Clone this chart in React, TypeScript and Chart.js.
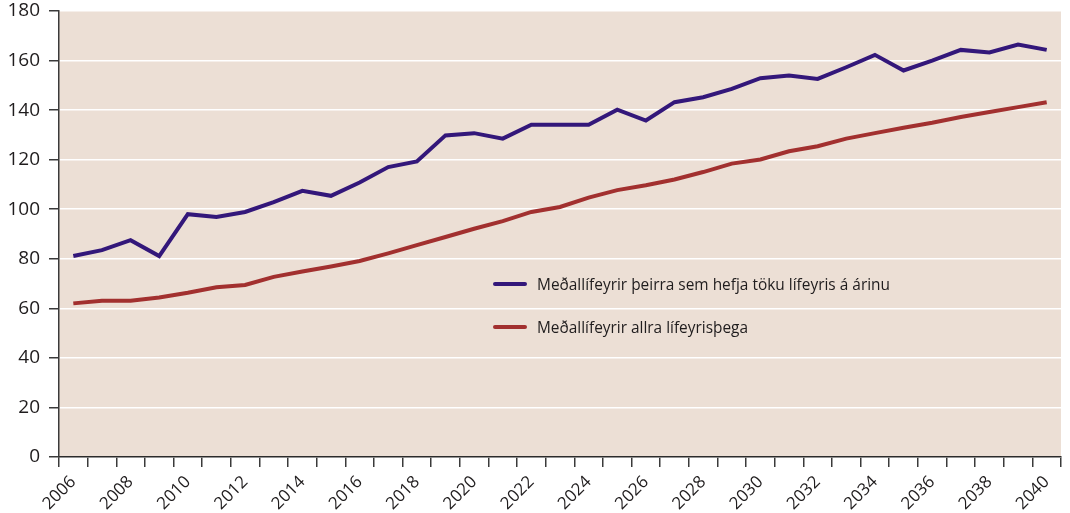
import React, { useEffect, useRef } from "react";
import { Chart, registerables } from "chart.js";

Chart.register(...registerables);

const years: string[] = [];
for (let y = 2006; y <= 2040; y++) years.push(String(y));

const newPensioners = [
  81.1, 83.5, 87.5, 81.1, 98.0, 96.9, 98.9, 102.9, 107.4, 105.4,
  110.8, 117.0, 119.3, 129.8, 130.7, 128.5, 134.1, 134.1, 134.1, 140.2,
  135.8, 143.2, 145.2, 148.6, 152.9, 154.0, 152.6, 157.3, 162.3, 156.0,
  160.0, 164.3, 163.3, 166.5, 164.3,
];

const allPensioners = [
  62.0, 63.1, 63.1, 64.4, 66.3, 68.5, 69.4, 72.7, 74.9, 76.9,
  79.1, 82.2, 85.5, 88.8, 92.1, 95.2, 98.9, 100.9, 104.7, 107.7,
  109.7, 112.0, 115.0, 118.4, 120.1, 123.4, 125.4, 128.5, 130.7, 132.9,
  134.9, 137.2, 139.2, 141.2, 143.2,
];

const seriesLabels = [
  "Meðallífeyrir þeirra sem hefja töku lífeyris á árinu",
  "Meðallífeyrir allra lífeyrisþega",
];

const colors = ["#33177a", "#a2302f"];
const FONT = "'Open Sans', 'DejaVu Sans', sans-serif";

const bgPlugin = {
  id: "plotBg",
  beforeDraw(chart: any) {
    const { ctx, chartArea } = chart;
    ctx.save();
    ctx.fillStyle = "#ecdfd5";
    ctx.fillRect(chartArea.left, chartArea.top, chartArea.right - chartArea.left, chartArea.bottom - chartArea.top);
    ctx.restore();
  },
};

const legendPlugin = {
  id: "innerLegend",
  afterDatasetsDraw(chart: any) {
    const { ctx, chartArea } = chart;
    const x0 = chartArea.left + 436;
    const ys = [chartArea.top + 273, chartArea.top + 316];
    ctx.save();
    chart.data.datasets.forEach((ds: any, i: number) => {
      const y = ys[i];
      ctx.strokeStyle = ds.borderColor;
      ctx.lineWidth = 4;
      ctx.lineCap = "round";
      ctx.beginPath();
      ctx.moveTo(x0, y);
      ctx.lineTo(x0 + 30, y);
      ctx.stroke();
      ctx.fillStyle = "#1f1c1d";
      ctx.font = `17px ${FONT}`;
      ctx.textBaseline = "middle";
      ctx.textAlign = "left";
      const maxW = i === 0 ? 353 : 211;
      ctx.fillText(ds.label, x0 + 42, y + 1, maxW);
    });
    ctx.restore();
  },
};

export default function App() {
  const ref = useRef<HTMLCanvasElement>(null);
  useEffect(() => {
    if (!ref.current) return;
    const chart = new Chart(ref.current, {
      type: "line",
      data: {
        labels: years,
        datasets: [
          {
            label: seriesLabels[0],
            data: newPensioners,
            borderColor: colors[0],
            backgroundColor: colors[0],
            borderWidth: 4,
            pointRadius: 0,
            tension: 0,
          },
          {
            label: seriesLabels[1],
            data: allPensioners,
            borderColor: colors[1],
            backgroundColor: colors[1],
            borderWidth: 4,
            pointRadius: 0,
            tension: 0,
          },
        ],
      },
      options: {
        animation: false,
        responsive: false,
        maintainAspectRatio: false,
        layout: { padding: { top: 11, right: 9, left: 0, bottom: 0 } },
        plugins: {
          legend: { display: false },
          tooltip: { enabled: false },
        },
        scales: {
          x: {
            type: "category",
            offset: true,
            grid: {
              offset: true,
              drawOnChartArea: false,
              drawTicks: true,
              tickLength: 10,
              color: "#3a3a3a",
              lineWidth: 1.5,
            },
            border: { color: "#2b2b2b", width: 1.5 },
            ticks: {
              autoSkip: false,
              minRotation: 45,
              maxRotation: 45,
              padding: 5,
              color: "#1f1c1d",
              font: { family: FONT, size: 17 },
              callback: (_v: any, i: number) => (i % 2 === 0 ? years[i] : ""),
            },
            afterFit: (s: any) => {
              s.height = 56;
              s.paddingLeft = 0;
              s.paddingRight = 0;
            },
          },
          y: {
            min: 0,
            max: 180,
            grid: {
              color: "#ffffff",
              lineWidth: 1.5,
              tickColor: "#3a3a3a",
              tickLength: 10,
              drawTicks: true,
            },
            border: { color: "#3a3a3a", width: 1.5 },
            ticks: {
              stepSize: 20,
              padding: 9,
              color: "#1f1c1d",
              font: { family: FONT, size: 19 },
            },
            afterFit: (s: any) => {
              s.width = 59;
              s.paddingTop = 0;
              s.paddingBottom = 0;
            },
          },
        },
      },
      plugins: [bgPlugin, legendPlugin],
    });
    return () => chart.destroy();
  }, []);
  return (
    <div style={{ position: "absolute", left: 0, top: 0, width: 1070, height: 513, background: "#fff" }}>
      <canvas ref={ref} width={1070} height={513} style={{ display: "block" }} />
    </div>
  );
}
